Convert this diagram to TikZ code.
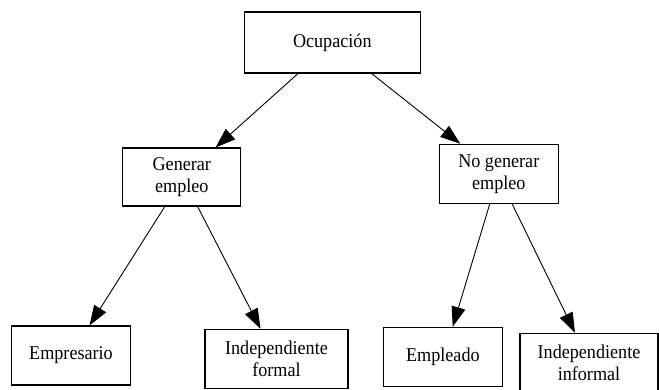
\documentclass[tikz,border=0pt]{standalone}
\usepackage{fontspec}
\setmainfont{Liberation Serif}[FakeStretch=0.93]
\usetikzlibrary{arrows.meta}
\begin{document}
\begin{tikzpicture}[x=1pt,y=-1pt,
  box/.style={draw=black,line width=1.1pt,rectangle,inner sep=0pt,align=center,
    font=\fontsize{19.5}{22}\selectfont},
  arr/.style={draw=black,line width=0.9pt,-{Triangle[length=20pt,width=14pt]}}]
\clip (0,0) rectangle (659,389);
\fill[white] (0,0) rectangle (659,389);
\node[box,minimum width=176pt,minimum height=61pt] (ocup) at (332.3,42.5) {Ocupación};
\node[box,minimum width=118pt,minimum height=58pt] (gen) at (181.8,177) {Generar\\empleo};
\node[box,minimum width=119pt,minimum height=59pt] (nogen) at (498.8,173.8) {No generar\\empleo};
\node[box,minimum width=118.5pt,minimum height=59pt] (empr) at (71,355.5) {Empresario};
\node[box,minimum width=143pt,minimum height=59pt] (indf) at (276.5,358.8) {Independiente\\formal};
\node[box,minimum width=119pt,minimum height=59.4pt] (empl) at (442.9,357) {Empleado};
\node[box,minimum width=138pt,minimum height=60pt] (indi) at (589,363.3) {Independiente\\informal};
\draw[arr] ([xshift=-34.3pt]ocup.south) -- ([xshift=33.8pt]gen.north);
\draw[arr] ([xshift=39.3pt]ocup.south) -- ([xshift=-38.5pt]nogen.north);
\draw[arr] ([xshift=-17pt]gen.south) -- ([xshift=18.5pt]empr.north);
\draw[arr] ([xshift=15.8pt]gen.south) -- ([xshift=-16pt]indf.north);
\draw[arr] ([xshift=-9pt]nogen.south) -- ([xshift=9.8pt]empl.north);
\draw[arr] ([xshift=13.3pt]nogen.south) -- ([xshift=-14pt]indi.north);
\end{tikzpicture}
\end{document}
